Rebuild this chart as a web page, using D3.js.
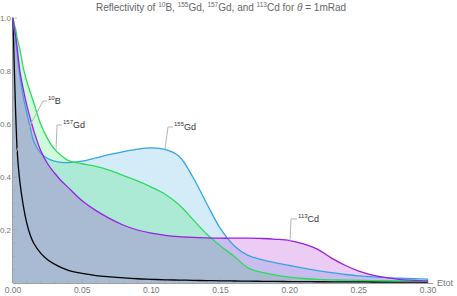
<!DOCTYPE html>
<html><head><meta charset="utf-8">
<script src="https://cdn.jsdelivr.net/npm/d3@7"></script>
<style>body{margin:0;background:#fff}svg{display:block;font-family:"Liberation Sans",Arial,sans-serif}</style>
</head><body><svg id="c" width="457" height="296"></svg>
<script>
const energy = [0,0.001,0.002,0.0025,0.003,0.005,0.0075,0.01,0.0125,0.015,0.02,0.025,0.03,0.035,0.04,0.05,0.06,0.07,0.08,0.09,0.1,0.11,0.12,0.13,0.14,0.15,0.16,0.17,0.18,0.19,0.2,0.21,0.22,0.23,0.24,0.25,0.26,0.27,0.28,0.29,0.3];
const b10   = [1,0.8,0.63,0.56,0.5,0.38,0.29,0.225,0.18,0.15,0.113,0.088,0.071,0.058,0.048,0.036,0.028,0.023,0.019,0.016,0.014,0.012,0.011,0.01,0.009,0.008,0.0075,0.007,0.0065,0.006,0.0055,0.005,0.0048,0.0045,0.0042,0.004,0.0038,0.0036,0.0034,0.0032,0.003];
const gd155 = [1,0.95,0.91,0.89,0.87,0.78,0.7,0.64,0.585,0.535,0.49,0.47,0.46,0.455,0.454,0.46,0.472,0.485,0.496,0.505,0.51,0.504,0.478,0.40,0.30,0.205,0.14,0.104,0.088,0.076,0.066,0.056,0.047,0.039,0.032,0.027,0.023,0.02,0.018,0.016,0.015];
const gd157 = [1,0.975,0.955,0.94,0.925,0.88,0.81,0.76,0.72,0.68,0.6,0.545,0.505,0.48,0.462,0.45,0.44,0.425,0.405,0.385,0.362,0.335,0.295,0.24,0.185,0.14,0.1,0.057,0.04,0.03,0.022,0.017,0.014,0.012,0.011,0.01,0.009,0.009,0.008,0.008,0.007];
const cd113 = [1,0.96,0.93,0.91,0.89,0.80,0.73,0.67,0.62,0.575,0.50,0.45,0.415,0.385,0.36,0.31,0.273,0.243,0.218,0.2,0.188,0.18,0.175,0.172,0.17,0.169,0.169,0.169,0.168,0.165,0.16,0.148,0.128,0.095,0.067,0.045,0.03,0.02,0.013,0.01,0.008];
const xTicks = [0,0.05,0.1,0.15,0.2,0.25,0.3];
const yTicks = [0.2,0.4,0.6,0.8,1.0];

const svg = d3.select("#c");
const x = d3.scaleLinear().domain([0,0.3]).range([13,428]);
const y = d3.scaleLinear().domain([0,1]).range([283,18]);

const series = [
  {name:"B", sup:"10", vals:b10, line:"#000000", fill:null},
  {name:"Gd", sup:"155", vals:gd155, line:"#36a3e2", fill:"rgb(40,160,222)"},
  {name:"Gd", sup:"157", vals:gd157, line:"#2bdc5c", fill:"rgb(15,228,75)"},
  {name:"Cd", sup:"113", vals:cd113, line:"#9b1fe3", fill:"rgb(160,0,205)"}
];
const curve = d3.curveCatmullRom.alpha(0.5);
const area = d3.area().x((d,i)=>x(energy[i])).y0(y(0)).y1(d=>y(d)).curve(curve);
const line = d3.line().x((d,i)=>x(energy[i])).y(d=>y(d)).curve(curve);

series.forEach(s=>{ if(s.fill) svg.append("path").attr("d",area(s.vals)).attr("fill",s.fill).attr("fill-opacity",0.2); });

// axes
const ax = svg.append("g").attr("stroke","#a0a0a0").attr("stroke-width",1);
ax.append("line").attr("x1",x(0)).attr("x2",433).attr("y1",y(0)+0.5).attr("y2",y(0)+0.5);
ax.append("line").attr("x1",x(0)-0.5).attr("x2",x(0)-0.5).attr("y1",y(0)).attr("y2",y(1)-1);
d3.range(0,0.3001,0.01).forEach(v=>{
  const major = xTicks.some(t=>Math.abs(t-v)<1e-6);
  ax.append("line").attr("x1",x(v)).attr("x2",x(v)).attr("y1",y(0)).attr("y2",y(0)-(major?4:2)).attr("stroke-width",0.6);
});
d3.range(0.05,1.0001,0.05).forEach(v=>{
  const major = yTicks.some(t=>Math.abs(t-v)<1e-6);
  ax.append("line").attr("x1",x(0)).attr("x2",x(0)+(major?4:2)).attr("y1",y(v)).attr("y2",y(v)).attr("stroke-width",0.6);
});
svg.append("g").selectAll("text").data(xTicks).join("text")
  .attr("x",d=>x(d)).attr("y",293).attr("text-anchor","middle")
  .attr("font-size",8.5).attr("fill","#777").text(d=>d3.format(".2f")(d));
svg.append("g").selectAll("text").data(yTicks).join("text")
  .attr("x",11).attr("y",d=>y(d)+3).attr("text-anchor","end")
  .attr("font-size",8).attr("fill","#777").text(d=>d3.format(".1f")(d));
svg.append("text").attr("x",437).attr("y",286).attr("font-size",9).attr("fill","#777").text("Etot");

series.forEach(s=>{
  svg.append("path").attr("d",line(s.vals)).attr("fill","none").attr("stroke",s.line).attr("stroke-width",1.3);
});

// callouts
const callouts = [
  {i:0, px:[[16,152],[43,101],[47,101]], tx:48, ty:104},
  {i:2, px:[[56,150],[57,125],[62,125]], tx:63, ty:128},
  {i:1, px:[[165,149],[168,127],[173,127]], tx:174, ty:130},
  {i:3, px:[[290,241],[291,219],[297,219]], tx:298, ty:222}
];
callouts.forEach(c=>{
  const s = series[c.i];
  svg.append("path").attr("d",d3.line()(c.px)).attr("fill","none").attr("stroke","#b5b5b5").attr("stroke-width",1);
  const t = svg.append("text").attr("x",c.tx).attr("y",c.ty).attr("font-size",9).attr("fill","#333");
  t.append("tspan").attr("font-size",6).attr("dy",-4).text(s.sup);
  t.append("tspan").attr("dy",4).text(s.name);
});

// title
const title = svg.append("text").attr("x",221).attr("y",11).attr("text-anchor","middle").attr("font-size",10).attr("fill","#666");
const parts = [["t","Reflectivity of "],["s","10"],["t","B, "],["s","155"],["t","Gd, "],["s","157"],["t","Gd, and "],["s","113"],["t","Cd for "],["i","θ"],["t"," = 1mRad"]];
let up=false;
parts.forEach(p=>{
  const sp = title.append("tspan").text(p[1]);
  if(p[0]==="s"){ sp.attr("font-size",6.5).attr("dy",-4); up=true; }
  else { if(up){ sp.attr("dy",4); up=false; } if(p[0]==="i") sp.attr("font-style","italic"); }
});
</script></body></html>
